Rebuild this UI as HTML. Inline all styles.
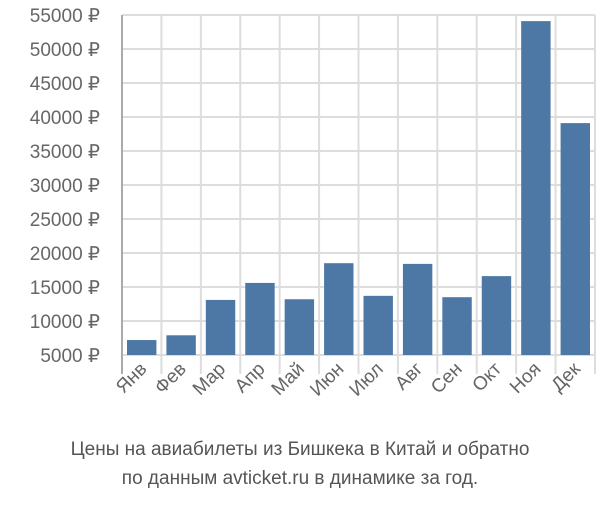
<!DOCTYPE html>
<html><head><meta charset="utf-8"><style>
body{margin:0;background:#fff;font-family:"Liberation Sans",sans-serif}
</style></head><body>
<svg width="600" height="500" xmlns="http://www.w3.org/2000/svg">
<g id="grid"></g><g id="bars"></g><g id="yt"></g><g id="xt"></g>
<text x="300" y="455" text-anchor="middle" font-size="19" fill="#555" font-family="Liberation Sans, sans-serif">Цены на авиабилеты из Бишкека в Китай и обратно</text>
<text x="300" y="484" text-anchor="middle" font-size="19" fill="#555" font-family="Liberation Sans, sans-serif">по данным avticket.ru в динамике за год.</text>
</svg>
<script>
const categories=["Янв","Фев","Мар","Апр","Май","Июн","Июл","Авг","Сен","Окт","Ноя","Дек"];
const values=[7200,7900,13100,15600,13200,18500,13700,18400,13500,16600,54100,39100];
const yTicks=[5000,10000,15000,20000,25000,30000,35000,40000,45000,50000,55000];
const ns="http://www.w3.org/2000/svg";
const L=122,R=595,T=15,B=355,ymin=5000,ymax=55000;
const y=v=>B-(v-ymin)/(ymax-ymin)*(B-T);
const bw=(R-L)/categories.length;
const x=i=>L+i*bw;
function mk(t,a,p){const e=document.createElementNS(ns,t);for(const k in a)e.setAttribute(k,a[k]);p.appendChild(e);return e;}
const g=document.getElementById('grid'),bg=document.getElementById('bars'),yt=document.getElementById('yt'),xt=document.getElementById('xt');
yTicks.forEach(v=>{
 const l=mk('line',{x1:L,x2:R,y1:y(v),y2:y(v),stroke:'#ddd','stroke-width':2},g);
 
 
 const t=mk('text',{x:L-22,y:y(v)+7,'text-anchor':'end','font-size':19,fill:'#666'},yt);
 t.textContent=v+' ₽';
 
 
});
for(let i=1;i<=categories.length;i++){
 const l=mk('line',{x1:x(i),x2:x(i),y1:T,y2:374,stroke:'#ddd','stroke-width':2},g);
 
 
}
const ax=mk('line',{x1:L,x2:L,y1:T,y2:374,stroke:'#aaa','stroke-width':2},g);


categories.forEach((c,i)=>{
 const r=mk('rect',{x:x(i)+5,y:y(values[i]),width:bw-10,height:B-y(values[i]),fill:'#4d78a6'},bg);
 
 
 const cx=x(i)+bw/2+6,cy=370;
 const t=mk('text',{x:cx,y:cy,'text-anchor':'end','font-size':19,fill:'#666',transform:`rotate(-45 ${cx} ${cy})`},xt);
 t.textContent=c;
 
 
});
</script>
</body></html>
